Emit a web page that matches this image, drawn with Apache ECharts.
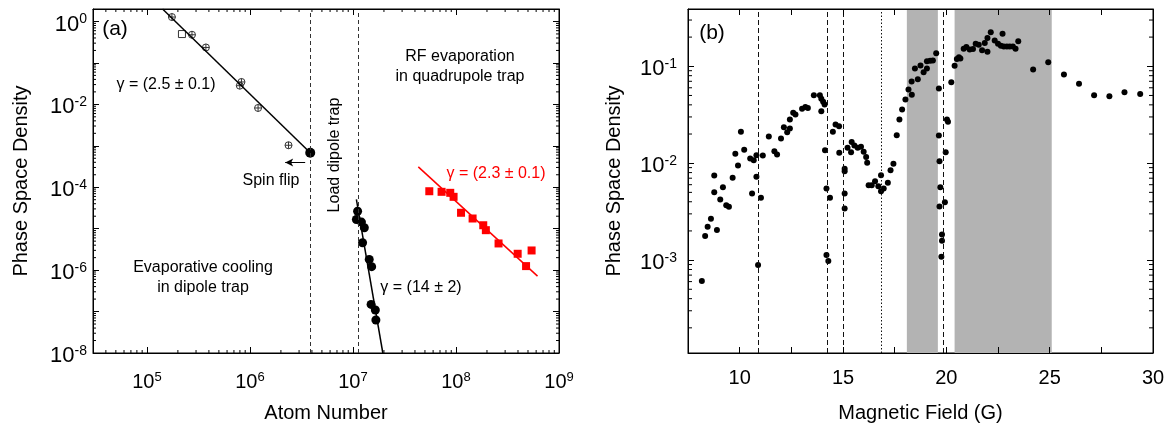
<!DOCTYPE html>
<html><head><meta charset="utf-8">
<script src="https://cdn.jsdelivr.net/npm/echarts@6.0.0/dist/echarts.min.js"></script>
<style>html,body{margin:0;padding:0;background:#fff}#c{width:1167px;height:423px}</style>
</head><body><div id="c"></div><script>
// ---------- Panel (a) data ----------
const crossedX = [1.75e5, 2.74e5, 3.74e5, 8.28e5, 7.98e5, 1.20e6, 2.37e6];
const crossedY = [1.28, 0.478, 0.236, 0.0347, 0.0282, 0.00818, 0.00103];
const openSquareX = [2.19e5];
const openSquareY = [0.497];
const spinFlipX = [3.85e6];
const spinFlipY = [6.8e-4];
const dipoleX = [1.11e7, 1.08e7, 1.21e7, 1.29e7, 1.24e7, 1.44e7, 1.52e7, 1.50e7, 1.65e7, 1.67e7];
const dipoleY = [2.64e-5, 1.67e-5, 1.44e-5, 1.05e-5, 4.57e-6, 1.81e-6, 1.21e-6, 1.49e-7, 1.09e-7, 6.24e-8];
const quadX = [5.51e7, 7.25e7, 8.80e7, 9.48e7, 1.12e8, 1.45e8, 1.84e8, 1.95e8, 2.59e8, 3.97e8, 4.79e8, 5.42e8];
const quadY = [8.01e-5, 7.75e-5, 7.33e-5, 5.87e-5, 2.42e-5, 1.76e-5, 1.21e-5, 9.2e-6, 4.4e-6, 2.48e-6, 1.25e-6, 2.98e-6];
const fitMotX = [1.42e5, 3.85e6];
const fitMotY = [2, 6.8e-4];
const fitDipoleX = [1.08e7, 1.95e7];
const fitDipoleY = [5.06e-5, 1e-8];
const fitQuadX = [4.31e7, 6.19e8];
const fitQuadY = [3.10e-4, 7.17e-7];
const stageLinesA = [3.85e6, 1.12e7];
const arrowX = [3.44e6, 2.2e6];
const arrowY = [3.94e-4, 3.94e-4];
const rangeAx = [3e4, 1e9];
const rangeAy = [1e-8, 2];

// ---------- Panel (b) data ----------
const fieldB = [8.17,8.33,8.45,8.61,8.90,8.77,8.77,9.06,9.19,9.35,9.48,9.66,9.79,9.92,10.06,10.22,10.51,10.68,10.81,10.81,10.60,11.03,10.89,11.12,11.41,11.68,11.81,12.00,12.14,12.30,12.43,12.43,12.59,12.70,13.02,13.18,13.30,13.59,13.88,13.95,14.04,14.11,13.95,14.13,14.20,14.37,14.20,14.29,14.51,14.64,14.81,14.82,15.08,15.08,15.08,15.08,15.22,15.39,15.42,15.55,15.71,15.87,16.00,16.12,16.17,16.24,16.39,16.55,16.71,16.84,16.97,16.84,17.17,17.30,17.44,17.60,17.73,17.86,18.02,18.17,18.33,18.32,18.48,18.62,18.75,18.90,19.06,19.06,19.22,19.35,19.51,19.64,19.64,19.67,19.71,19.67,19.79,19.79,19.76,19.93,19.97,20.03,20.08,20.24,20.40,20.51,20.61,20.68,20.84,20.97,21.13,21.29,21.42,21.57,21.73,21.86,21.99,21.99,22.15,22.34,22.50,22.64,22.78,22.93,23.07,23.22,23.35,22.72,23.48,24.20,24.93,25.69,26.42,27.15,27.89,28.62,29.38];
const psdB = [6.08e-4,1.77e-3,2.21e-3,2.67e-3,2.04e-3,7.46e-3,5.02e-3,4.23e-3,5.66e-3,3.69e-3,3.55e-3,7.07e-3,1.25e-2,9.47e-3,2.11e-2,1.38e-2,1.12e-2,1.07e-2,1.21e-2,7.24e-3,4.87e-3,4.40e-3,8.88e-4,1.20e-2,1.88e-2,1.33e-2,1.23e-2,1.80e-2,2.35e-2,2.09e-2,2.28e-2,2.82e-2,3.31e-2,3.18e-2,3.64e-2,3.81e-2,3.72e-2,5.02e-2,5.02e-2,4.61e-2,4.30e-2,4.03e-2,3.44e-2,1.36e-2,5.48e-3,4.40e-3,1.13e-3,9.77e-4,2.11e-2,2.51e-2,2.41e-2,1.28e-2,8.75e-3,8.27e-3,4.87e-3,3.41e-3,1.44e-2,1.30e-2,1.65e-2,1.52e-2,1.44e-2,1.48e-2,1.31e-2,1.16e-2,1.01e-2,5.93e-3,5.93e-3,6.52e-3,5.79e-3,5.14e-3,5.48e-3,7.52e-3,6.28e-3,8.47e-3,9.86e-3,1.94e-2,2.82e-2,3.58e-2,4.54e-2,5.75e-2,5.07e-2,6.95e-2,9.47e-2,7.35e-2,0.102,8.67e-2,9.47e-2,0.113,0.114,0.115,0.136,5.89e-2,1.93e-2,1.05e-2,5.66e-3,3.58e-3,1.84e-3,1.58e-3,1.08e-3,3.96e-3,1.30e-2,2.82e-2,2.67e-2,6.84e-2,0.101,0.119,0.124,0.120,0.152,0.158,0.149,0.151,0.171,0.167,0.146,0.174,0.141,0.196,0.224,0.184,0.171,0.163,0.160,0.160,0.160,0.160,0.152,0.216,0.181,9.25e-2,0.110,8.21e-2,6.59e-2,5.02e-2,4.91e-2,5.39e-2,5.19e-2];
const dashedLinesB = [10.9, 14.25, 15.03, 19.83];
const dottedLinesB = [16.87];
const shadedB = [[18.09, 19.59], [20.40, 25.10]];
const rangeBx = [7.5, 30];
const rangeBy = [1.1e-4, 0.39];
const xTickStepB = 2.5;

// ---------- helpers ----------
const FONT = '"Liberation Sans", Arial, Helvetica, sans-serif';
const zip = (xs, ys) => xs.map((x, i) => [x, ys[i]]);
function supLabel(v, evenOnly) {
  const l = Math.log10(v), e = Math.round(l);
  if (Math.abs(l - e) > 1e-6) return '';
  if (evenOnly && e % 2 !== 0) return '';
  return '{b|10}{s|' + e + '}';
}
const richX = {
  b: { fontSize: 20, fontFamily: FONT, color: '#000', lineHeight: 22 },
  s: { fontSize: 13, fontFamily: FONT, color: '#000', lineHeight: 13, verticalAlign: 'top' }
};
const richY = {
  b: { fontSize: 22, fontFamily: FONT, color: '#000', lineHeight: 24 },
  s: { fontSize: 14, fontFamily: FONT, color: '#000', lineHeight: 14, verticalAlign: 'top' }
};
function logMinors(r) {
  const out = [];
  for (let d = Math.floor(Math.log10(r[0])); d <= Math.ceil(Math.log10(r[1])); d++) {
    for (let m = 2; m <= 9; m++) {
      const v = m * Math.pow(10, d);
      if (v > r[0] && v < r[1]) out.push(v);
    }
  }
  return out;
}
function minorRender(rx, ry, len) {
  return function (params, api) {
    const kind = api.value(2);
    const st = { stroke: '#000', lineWidth: 1 };
    if (kind === 0) {
      const v = api.value(1);
      const a = api.coord([rx[0], v]), b = api.coord([rx[1], v]);
      return { type: 'group', children: [
        { type: 'line', shape: { x1: a[0], y1: a[1], x2: a[0] + len, y2: a[1] }, style: st },
        { type: 'line', shape: { x1: b[0], y1: b[1], x2: b[0] - len, y2: b[1] }, style: st }
      ] };
    } else {
      const v = api.value(0);
      const a = api.coord([v, ry[0]]), b = api.coord([v, ry[1]]);
      return { type: 'group', children: [
        { type: 'line', shape: { x1: a[0], y1: a[1], x2: a[0], y2: a[1] - len }, style: st },
        { type: 'line', shape: { x1: b[0], y1: b[1], x2: b[0], y2: b[1] + len }, style: st }
      ] };
    }
  };
}
const minorDataA = logMinors(rangeAy).map(v => [rangeAx[0], v, 0])
  .concat(logMinors(rangeAx).map(v => [v, rangeAy[0], 1]));
const minorDataB = logMinors(rangeBy).map(v => [rangeBx[0], v, 0]);

const axisLineStyle = { show: true, lineStyle: { color: '#000', width: 1 } };
const tickIn = { show: true, inside: true, length: 6, lineStyle: { color: '#000', width: 1 } };
const crossPath = 'path://M10,0A10,10,0,1,1,10,20A10,10,0,1,1,10,0ZM0,10L20,10M10,0L10,20';
const nameStyle = { fontSize: 20, fontFamily: FONT, color: '#000' };

const chart = echarts.init(document.getElementById('c'), null, { renderer: 'canvas' });
chart.setOption({
  animation: false,
  backgroundColor: '#fff',
  grid: [
    { left: 93, top: 9, width: 466, height: 344, show: true, borderColor: '#000', borderWidth: 1, backgroundColor: 'transparent', containLabel: false, outerBoundsMode: 'none' },
    { left: 688, top: 9, width: 465, height: 344, show: true, borderColor: '#000', borderWidth: 1, backgroundColor: 'transparent', containLabel: false, outerBoundsMode: 'none' }
  ],
  xAxis: [
    { type: 'log', gridIndex: 0, min: rangeAx[0], max: rangeAx[1], splitNumber: 10, z: 10,
      axisLine: axisLineStyle, axisTick: tickIn, splitLine: { show: false },
      axisLabel: { margin: 18, formatter: v => supLabel(v, false), rich: richX },
      name: 'Atom Number', nameLocation: 'middle', nameGap: 50, nameTextStyle: nameStyle },
    { type: 'log', gridIndex: 0, position: 'top', min: rangeAx[0], max: rangeAx[1], splitNumber: 10, z: 10,
      axisLine: axisLineStyle, axisTick: tickIn, splitLine: { show: false }, axisLabel: { show: false } },
    { type: 'value', gridIndex: 1, min: rangeBx[0], max: rangeBx[1], interval: xTickStepB, z: 10,
      axisLine: axisLineStyle, axisTick: tickIn, splitLine: { show: false },
      axisLabel: { margin: 15, fontSize: 20, fontFamily: FONT, color: '#000',
        formatter: v => (Math.abs(v % 5) < 1e-9 ? String(v) : '') },
      name: 'Magnetic Field (G)', nameLocation: 'middle', nameGap: 50, nameTextStyle: nameStyle },
    { type: 'value', gridIndex: 1, position: 'top', min: rangeBx[0], max: rangeBx[1], interval: xTickStepB, z: 10,
      axisLine: axisLineStyle, axisTick: tickIn, splitLine: { show: false }, axisLabel: { show: false } }
  ],
  yAxis: [
    { type: 'log', gridIndex: 0, min: rangeAy[0], max: rangeAy[1], splitNumber: 10, z: 10,
      axisLine: axisLineStyle, axisTick: tickIn, splitLine: { show: false },
      axisLabel: { margin: 6, padding: [6, 0, 0, 0], formatter: v => supLabel(v, true), rich: richY },
      name: 'Phase Space Density', nameLocation: 'middle', nameGap: 62, nameTextStyle: nameStyle },
    { type: 'log', gridIndex: 0, position: 'right', min: rangeAy[0], max: rangeAy[1], splitNumber: 10, z: 10,
      axisLine: axisLineStyle, axisTick: tickIn, splitLine: { show: false }, axisLabel: { show: false } },
    { type: 'log', gridIndex: 1, min: rangeBy[0], max: rangeBy[1], splitNumber: 10, z: 10,
      axisLine: axisLineStyle, axisTick: tickIn, splitLine: { show: false },
      axisLabel: { margin: 11, padding: [6, 0, 0, 0], formatter: v => supLabel(v, false), rich: richY },
      name: 'Phase Space Density', nameLocation: 'middle', nameGap: 64, nameTextStyle: nameStyle },
    { type: 'log', gridIndex: 1, position: 'right', min: rangeBy[0], max: rangeBy[1], splitNumber: 10, z: 10,
      axisLine: axisLineStyle, axisTick: tickIn, splitLine: { show: false }, axisLabel: { show: false } }
  ],
  series: [
    // ----- panel (a) -----
    { type: 'custom', xAxisIndex: 0, yAxisIndex: 0, data: minorDataA, encode: { x: 0, y: 1 },
      renderItem: minorRender(rangeAx, rangeAy, 3), silent: true, z: 10, clip: false },
    { type: 'line', xAxisIndex: 0, yAxisIndex: 0, data: zip(fitMotX, fitMotY), showSymbol: false,
      lineStyle: { color: '#000', width: 1.5 }, silent: true,
      markLine: { silent: true, symbol: 'none', label: { show: false },
        lineStyle: { color: '#333', width: 1, type: [4, 3] },
        data: stageLinesA.map(v => ({ xAxis: v })) } },
    { type: 'line', xAxisIndex: 0, yAxisIndex: 0, data: zip(fitDipoleX, fitDipoleY), showSymbol: false,
      lineStyle: { color: '#000', width: 1.5 }, silent: true,
      markLine: { silent: true, label: { show: false }, symbolSize: [6, 8],
        lineStyle: { color: '#000', width: 1, type: 'solid' },
        data: [[{ coord: [arrowX[0], arrowY[0]], symbol: 'none' }, { coord: [arrowX[1], arrowY[1]], symbol: 'arrow' }]] } },
    { type: 'line', xAxisIndex: 0, yAxisIndex: 0, data: zip(fitQuadX, fitQuadY), showSymbol: false,
      lineStyle: { color: '#ff0000', width: 1.5 }, silent: true },
    { type: 'scatter', xAxisIndex: 0, yAxisIndex: 0, data: zip(crossedX, crossedY), symbol: crossPath, symbolSize: 7,
      itemStyle: { color: 'rgba(255,255,255,0)', borderColor: '#333', borderWidth: 1, opacity: 1 } },
    { type: 'scatter', xAxisIndex: 0, yAxisIndex: 0, data: zip(openSquareX, openSquareY), symbol: 'rect', symbolSize: 7,
      itemStyle: { color: 'rgba(255,255,255,0)', borderColor: '#333', borderWidth: 1, opacity: 1 } },
    { type: 'scatter', xAxisIndex: 0, yAxisIndex: 0, data: zip(spinFlipX, spinFlipY), symbol: 'circle', symbolSize: 10,
      itemStyle: { color: '#000', opacity: 1 } },
    { type: 'scatter', xAxisIndex: 0, yAxisIndex: 0, data: zip(dipoleX, dipoleY), symbol: 'circle', symbolSize: 9,
      itemStyle: { color: '#000', opacity: 1 } },
    { type: 'scatter', xAxisIndex: 0, yAxisIndex: 0, data: zip(quadX, quadY), symbol: 'rect', symbolSize: 8,
      itemStyle: { color: '#ff0000', opacity: 1 } },
    // ----- panel (b) -----
    { type: 'custom', xAxisIndex: 2, yAxisIndex: 2, data: minorDataB, encode: { x: 0, y: 1 },
      renderItem: minorRender(rangeBx, rangeBy, 4), silent: true, z: 10, clip: false },
    { type: 'scatter', xAxisIndex: 2, yAxisIndex: 2, data: zip(fieldB, psdB), symbol: 'circle', symbolSize: 6,
      itemStyle: { color: '#000', opacity: 1 }, z: 3,
      markArea: { silent: true, itemStyle: { color: '#b3b3b3', opacity: 1 },
        data: shadedB.map(s => [{ xAxis: s[0] }, { xAxis: s[1] }]) },
      markLine: { silent: true, symbol: 'none', label: { show: false },
        lineStyle: { color: '#111', width: 1, type: [5, 3] },
        data: dashedLinesB.map(v => ({ xAxis: v })).concat(
          dottedLinesB.map(v => ({ xAxis: v, lineStyle: { type: [1.5, 2], color: '#111', width: 1 } }))) } }
  ],
  graphic: [
    { type: 'text', x: 115, y: 29, style: { text: '(a)', font: '21px ' + FONT, fill: '#000', align: 'center', verticalAlign: 'middle' } },
    { type: 'text', x: 712, y: 33, style: { text: '(b)', font: '21px ' + FONT, fill: '#000', align: 'center', verticalAlign: 'middle' } },
    { type: 'text', x: 166, y: 85, style: { text: 'γ = (2.5 ± 0.1)', font: '16px ' + FONT, fill: '#000', align: 'center', verticalAlign: 'middle' } },
    { type: 'text', x: 271, y: 181, style: { text: 'Spin flip', font: '16px ' + FONT, fill: '#000', align: 'center', verticalAlign: 'middle' } },
    { type: 'text', x: 335, y: 155, rotation: Math.PI / 2, style: { text: 'Load dipole trap', font: '16px ' + FONT, fill: '#000', align: 'center', verticalAlign: 'middle' } },
    { type: 'text', x: 460, y: 67, style: { text: 'RF evaporation\nin quadrupole trap', font: '16px ' + FONT, lineHeight: 20, fill: '#000', align: 'center', verticalAlign: 'middle' } },
    { type: 'text', x: 496, y: 174, style: { text: 'γ = (2.3 ± 0.1)', font: '16px ' + FONT, fill: '#ff0000', align: 'center', verticalAlign: 'middle' } },
    { type: 'text', x: 421, y: 288, style: { text: 'γ = (14 ± 2)', font: '16px ' + FONT, fill: '#000', align: 'center', verticalAlign: 'middle' } },
    { type: 'text', x: 203, y: 278, style: { text: 'Evaporative cooling\nin dipole trap', font: '16px ' + FONT, lineHeight: 20, fill: '#000', align: 'center', verticalAlign: 'middle' } }
  ]
});
</script></body></html>
